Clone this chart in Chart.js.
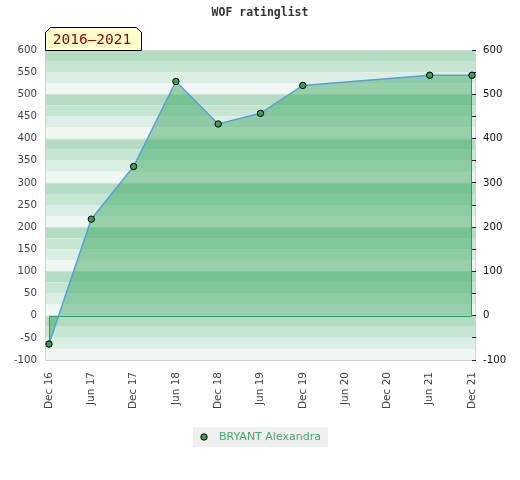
<!DOCTYPE html>
<html><head><meta charset="utf-8">
<script src="https://cdn.jsdelivr.net/npm/chart.js@4"></script>
<style>html,body{margin:0;padding:0;background:#fff}</style>
</head><body>
<canvas id="c" width="520" height="480"></canvas>
<script>
const chartTitle = 'WOF ratinglist';
const periodLabel = '2016–2021';
const seriesName = 'BRYANT Alexandra';
const labels = ['Dec 16','Jun 17','Dec 17','Jun 18','Dec 18','Jun 19','Dec 19','Jun 20','Dec 20','Jun 21','Dec 21'];
const ratings = [-64, 218, 337, 529, 433, 457, 520, null, null, 543, 543];
const yMin = -100, yMax = 600, yStep = 50, rightLabelStep = 100, stripeStep = 25;

const stripeColors = ['#b3dcc3', '#c7e5d3', '#dbeee3', '#eff7f2'];

const bgPlugin = {
  id: 'bgPlugin',
  beforeDraw(chart) {
    const ctx = chart.ctx, a = chart.chartArea, ys = chart.scales.y;
    const L = Math.round(a.left) - 3, R = Math.round(a.right) + 3;
    ctx.save();
    let i = 0;
    for (let v = yMax; v > yMin; v -= stripeStep, i++) {
      const t = ys.getPixelForValue(v), b = ys.getPixelForValue(v - stripeStep);
      ctx.fillStyle = stripeColors[i % 4];
      ctx.fillRect(L, t, R - L, b - t);
    }
    ctx.strokeStyle = '#dcdcdc';
    ctx.lineWidth = 1;
    for (let v = yMax; v >= yMin; v -= 100) {
      const y = Math.round(ys.getPixelForValue(v)) + 0.5;
      ctx.beginPath(); ctx.moveTo(L, y); ctx.lineTo(R, y); ctx.stroke();
    }
    ctx.strokeStyle = '#d2d2d2';
    ctx.strokeRect(L - 0.5, Math.round(a.top) + 0.5, R - L + 1, Math.round(a.bottom - a.top));
    ctx.restore();
  },
  beforeDatasetDraw(chart) {
    const ctx = chart.ctx, xs = chart.scales.x, ys = chart.scales.y;
    let first = -1, last = -1;
    ratings.forEach((v, i) => { if (v !== null) { if (first < 0) first = i; last = i; } });
    const y0 = Math.round(ys.getPixelForValue(0)) + 0.5;
    const xf = Math.round(xs.getPixelForValue(first)) + 0.5, xl = Math.round(xs.getPixelForValue(last)) - 0.5;
    ctx.save();
    ctx.strokeStyle = '#2f9e55';
    ctx.lineWidth = 1;
    ctx.beginPath();
    ctx.moveTo(xf, ys.getPixelForValue(ratings[first]));
    ctx.lineTo(xf, y0);
    ctx.lineTo(xl, y0);
    ctx.lineTo(xl, ys.getPixelForValue(ratings[last]));
    ctx.stroke();
    ctx.restore();
  },
  afterDraw(chart) {
    const ctx = chart.ctx, a = chart.chartArea;
    ctx.save();
    ctx.fillStyle = '#333';
    ctx.font = 'bold 11.5px "DejaVu Sans Mono"';
    ctx.textAlign = 'center';
    ctx.textBaseline = 'middle';
    ctx.fillText(chartTitle, 260, 13);
    const bl = 45.5, br = 141.5, bt = 27.5, bb = Math.round(a.top) + 0.5, c = 5;
    ctx.beginPath();
    ctx.moveTo(bl, bb); ctx.lineTo(bl, bt + c); ctx.lineTo(bl + c, bt);
    ctx.lineTo(br - c, bt); ctx.lineTo(br, bt + c); ctx.lineTo(br, bb); ctx.closePath();
    ctx.fillStyle = '#ffffcc'; ctx.fill();
    ctx.strokeStyle = '#000'; ctx.lineWidth = 1; ctx.stroke();
    ctx.fillStyle = '#8b0000';
    ctx.font = '14.5px "DejaVu Sans Mono"';
    ctx.textAlign = 'center';
    ctx.fillText(periodLabel, 92, 40);
    ctx.font = '11px "DejaVu Sans"';
    const tw = ctx.measureText(seriesName).width;
    const w = tw + 33, x0 = Math.round(260.5 - w / 2);
    ctx.fillStyle = '#efefef';
    ctx.fillRect(x0, 427, w, 20);
    const ds = chart.data.datasets[0];
    ctx.beginPath(); ctx.arc(x0 + 11, 437, 3.2, 0, Math.PI * 2);
    ctx.fillStyle = ds.pointBackgroundColor; ctx.fill();
    ctx.strokeStyle = '#000'; ctx.stroke();
    ctx.fillStyle = '#3fae68';
    ctx.textAlign = 'left';
    ctx.fillText(ds.label, x0 + 26, 437);
    ctx.restore();
  }
};

new Chart(document.getElementById('c'), {
  type: 'line',
  data: {
    labels: labels,
    datasets: [{
      label: seriesName,
      data: ratings,
      borderColor: '#5b9fd6',
      borderWidth: 1.5,
      backgroundColor: 'rgba(46,160,87,0.45)',
      fill: 'origin',
      spanGaps: true,
      tension: 0,
      pointRadius: 3.2,
      pointBackgroundColor: '#3a9d5d',
      pointBorderColor: '#000',
      pointBorderWidth: 1
    }]
  },
  options: {
    responsive: false,
    animation: false,
    devicePixelRatio: 1,
    layout: { padding: { top: 50, bottom: 60, left: 0, right: 0 } },
    plugins: { legend: { display: false }, title: { display: false }, tooltip: { enabled: false } },
    scales: {
      x: {
        type: 'category', offset: false,
        grid: { display: false, drawTicks: false }, border: { display: false },
        ticks: { autoSkip: false, minRotation: 90, maxRotation: 90, padding: 12, color: '#444', font: { family: 'DejaVu Sans', size: 10.5 } },
        afterFit: s => { s.height = 60; }
      },
      y: {
        position: 'left', min: yMin, max: yMax,
        grid: { display: false, drawTicks: false }, border: { display: false },
        ticks: { stepSize: yStep, padding: 12, color: '#444', font: { family: 'DejaVu Sans', size: 10.2 } },
        afterFit: s => { s.width = 49; }
      },
      y2: {
        position: 'right', min: yMin, max: yMax,
        grid: { drawOnChartArea: false, drawTicks: true, tickLength: 4, color: '#222' }, border: { display: false },
        ticks: { stepSize: yStep, padding: 7, color: '#111', autoSkip: false, font: { family: 'DejaVu Sans', size: 10.2 },
                 callback: v => (v % rightLabelStep === 0 ? v : '') },
        afterFit: s => { s.width = 48; }
      }
    }
  },
  plugins: [bgPlugin]
});
</script>
</body></html>
